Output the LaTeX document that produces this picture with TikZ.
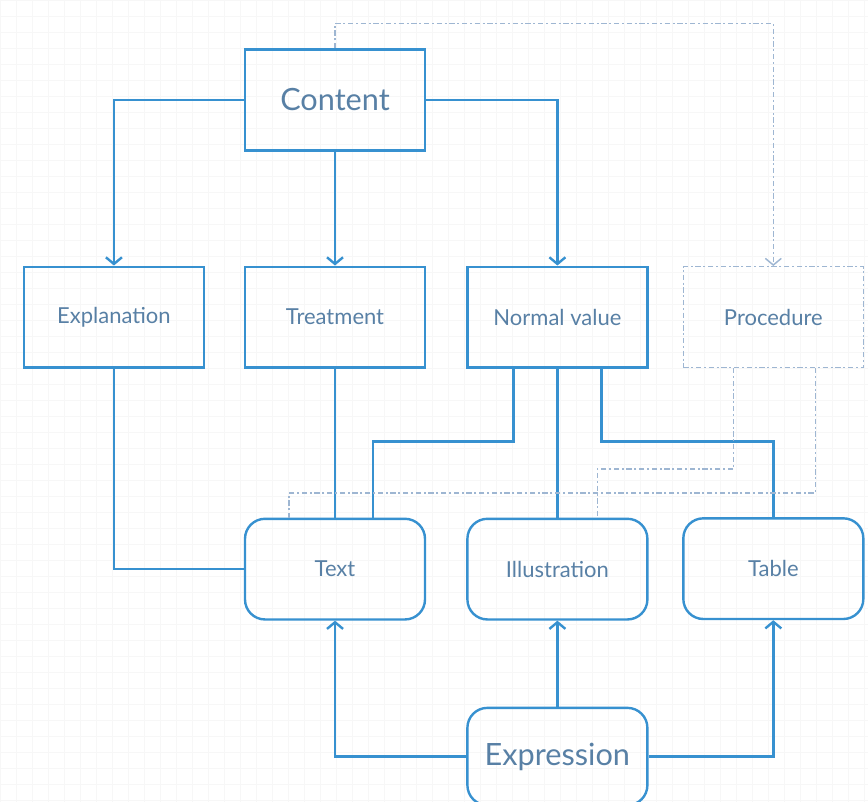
\documentclass[tikz,border=0pt]{standalone}
\usepackage{fontspec}
\setmainfont{Lato}
\usepackage{xcolor}
\usetikzlibrary{arrows.meta,positioning}

\definecolor{lineblue}{RGB}{55,145,208}
\definecolor{textblue}{RGB}{88,128,165}
\definecolor{dashblue}{RGB}{158,182,210}

\begin{document}
\begin{tikzpicture}[
  x=0.75pt, y=-0.75pt,
  box/.style={draw=lineblue, line width=1.8pt, minimum width=135pt, minimum height=75.5pt, align=center, font=\fontsize{16.5}{19}\selectfont, text=textblue},
  bigbox/.style={box, font=\fontsize{23}{26}\selectfont},
  rbox/.style={box, rounded corners=15pt},
  dbox/.style={box, draw=dashblue, line width=1.1pt, dash pattern=on 4pt off 2pt on 1.5pt off 2pt},
  arrow/.style={-{Straight Barb[length=5pt, width=12pt]}, draw=lineblue, line width=1.8pt},
  link/.style={draw=lineblue, line width=1.8pt},
  darrow/.style={-{Straight Barb[length=5pt, width=12pt]}, draw=dashblue, line width=1.1pt, dash pattern=on 4pt off 2pt on 1.5pt off 2pt},
  dlink/.style={draw=dashblue, line width=1.1pt, dash pattern=on 4pt off 2pt on 1.5pt off 2pt},
]
\useasboundingbox (0,0) rectangle (868,802);
\draw[black!3, line width=0.3pt, step=12pt] (0,0) grid (868,802);

\node[bigbox] (content) at (335,100) {Content};

% second row
\node[box, below=85.5pt of content] (treat) {Treatment};
\node[box, left=29pt of treat] (expl) {Explanation};
\node[box, right=30pt of treat] (normal) {Normal value};
\node[dbox, right=25.5pt of normal] (proc) {Procedure};

% third row
\node[rbox, below=111.75pt of treat] (text) {Text};
\node[rbox, below=111.75pt of normal] (illus) {Illustration};
\node[rbox, below=111.75pt of proc] (table) {Table};
\node[rbox, bigbox, rounded corners=15pt, minimum height=73pt, below=64.5pt of illus] (expr) {Expression};

\draw[arrow] (content.west) -| (expl.north);
\draw[arrow] (content.south) -- (treat.north);
\draw[arrow] (content.east) -| (normal.north);
\draw[darrow] (content.north) -- ++(0,-25) -| (proc.north);

\draw[link] (expl.south) |- (text.west);
\draw[link] (treat.south) -- (text.north);
\draw[link] ([xshift=-33pt]normal.south) -- ++(0,73) -| ([xshift=28.5pt]text.north);
\draw[link] (normal.south) -- (illus.north);
\draw[link] ([xshift=33pt]normal.south) -- ++(0,73) -| (table.north);

\draw[dlink] ([xshift=-30pt]proc.south) -- ++(0,101) -| ([xshift=30pt]illus.north);
\draw[dlink] ([xshift=31.5pt]proc.south) -- ++(0,125) -| ([xshift=-34.5pt]text.north);

\draw[arrow] (expr.west) -| (text.south);
\draw[arrow] (expr.north) -- (illus.south);
\draw[arrow] (expr.east) -| (table.south);

\end{tikzpicture}
\end{document}
